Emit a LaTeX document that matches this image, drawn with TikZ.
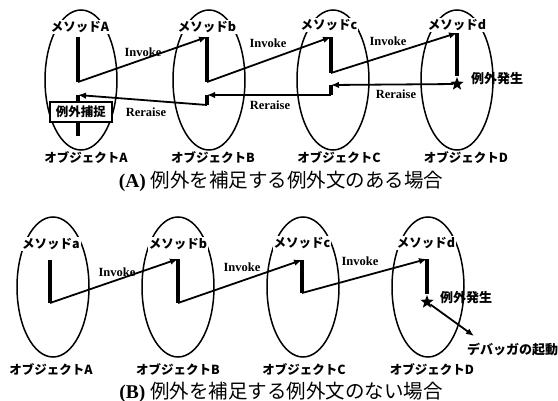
\documentclass[tikz,border=0pt]{standalone}
\usepackage{fontspec}
\setmainfont{Liberation Serif}
\newfontfamily\jpfont{Noto Sans CJK JP}
\usetikzlibrary{arrows.meta,shapes.geometric}

\begin{document}
\begin{tikzpicture}[x=1pt, y=-1pt,
  obj/.style={draw, ellipse, line width=1.5pt, minimum width=72pt, minimum height=140pt, inner sep=0pt},
  meth/.style={fill=white, inner sep=1pt, font=\jpfont\bfseries\fontsize{12.5}{14}\selectfont},
  objname/.style={inner sep=1pt, font=\jpfont\bfseries\fontsize{12.5}{14}\selectfont},
  msg/.style={inner sep=1pt, font=\bfseries\fontsize{12.5}{14}\selectfont},
  note/.style={inner sep=1pt, font=\jpfont\bfseries\fontsize{13}{15}\selectfont},
  run/.style={line width=3.2pt},
  call/.style={line width=1.8pt, -{Latex[length=8pt, width=6.5pt]}},
  burst/.style={star, star points=5, star point ratio=2.4, fill=black, minimum size=14pt, inner sep=0pt},
  catchbox/.style={draw, fill=white, line width=1.3pt, minimum width=62pt, minimum height=20pt, inner sep=0pt,
    font=\jpfont\bfseries\fontsize{12.5}{14}\selectfont},
  captext/.style={inner sep=0pt, font=\fontsize{19.5}{22}\selectfont}]
  \path[use as bounding box, fill=white] (0,0) rectangle (558,401);

  % (A) the exception is caught in object A
  \node[obj] (oA) at (81,80) {};
  \node[obj] (oB) at (209,80) {};
  \node[obj] (oC) at (333,80) {};
  \node[obj] (oD) at (457,80) {};
  \node[meth] (mA) at (80,27) {メソッドA};
  \node[meth] (mB) at (207,27) {メソッドb};
  \node[meth] (mC) at (329,25) {メソッドc};
  \node[meth] (mD) at (457,25) {メソッドd};
  \node[objname] (nA) at (86,158) {オブジェクトA};
  \node[objname] (nB) at (213,158) {オブジェクトB};
  \node[objname] (nC) at (339,158) {オブジェクトC};
  \node[objname] (nD) at (466,158) {オブジェクトD};
  % method runs
  \coordinate (a1) at (78,37);  \coordinate (a2) at (78,82);
  \coordinate (a3) at (78,95);  \coordinate (a4) at (78,136);
  \coordinate (b1) at (207,37); \coordinate (b2) at (207,82);
  \coordinate (b3) at (207,95); \coordinate (b4) at (207,105);
  \coordinate (c1) at (331,37); \coordinate (c2) at (331,73);
  \coordinate (c3) at (331,85); \coordinate (c4) at (331,95);
  \coordinate (d1) at (457,33);
  \draw[run] (a1) -- (a2);
  \draw[run] (a3) -- (a4);
  \draw[run] (b1) -- (b2);
  \draw[run] (b3) -- (b4);
  \draw[run] (c1) -- (c2);
  \draw[run] (c3) -- (c4);
  \node[burst] (sD) at (457,84) {};
  \draw[run] (d1) -- (sD);
  \node[catchbox] (cA) at (81,112) {例外捕捉};
  % invoke and reraise
  \draw[call] (a2) -- (b1);
  \draw[call] (b2) -- (c1);
  \draw[call] (c2) -- (d1);
  \draw[call] (sD) -- (c3);
  \draw[call] (c4) -- (b3);
  \draw[call] (b4) -- (a3);
  \node[msg] (iAB) at (143,52) {Invoke};
  \node[msg] (iBC) at (268,43) {Invoke};
  \node[msg] (iCD) at (388,41) {Invoke};
  \node[msg] (rBA) at (146,112) {Reraise};
  \node[msg] (rCB) at (270,105) {Reraise};
  \node[msg] (rDC) at (396,94) {Reraise};
  \node[note] (eD) at (497,79) {例外発生};
  \node[captext] (capA) at (281,181) {\textbf{(A)} {\jpfont 例外を補足する例外文のある場合}};

  % (B) no handler, the debugger starts
  \node[obj] (pA) at (53,287) {};
  \node[obj] (pB) at (178,287) {};
  \node[obj] (pC) at (303,287) {};
  \node[obj] (pD) at (428,287) {};
  \node[meth] (qA) at (51,244) {メソッドa};
  \node[meth] (qB) at (178,244) {メソッドb};
  \node[meth] (qC) at (302,243) {メソッドc};
  \node[meth] (qD) at (426,243) {メソッドd};
  \node[objname] (kA) at (51,370) {オブジェクトA};
  \node[objname] (kB) at (178,370) {オブジェクトB};
  \node[objname] (kC) at (304,370) {オブジェクトC};
  \node[objname] (kD) at (432,370) {オブジェクトD};
  % method runs
  \coordinate (e1) at (50,260);  \coordinate (e2) at (50,303);
  \coordinate (f1) at (178,259); \coordinate (f2) at (178,303);
  \coordinate (g1) at (302,260); \coordinate (g2) at (302,293);
  \coordinate (h1) at (427,259);
  \draw[run] (e1) -- (e2);
  \draw[run] (f1) -- (f2);
  \draw[run] (g1) -- (g2);
  \node[burst] (sH) at (427,302) {};
  \draw[run] (h1) -- (sH);
  \draw[call] (e2) -- (f1);
  \draw[call] (f2) -- (g1);
  \draw[call] (g2) -- (h1);
  \node[msg] (jAB) at (117,272) {Invoke};
  \node[msg] (jBC) at (242,267) {Invoke};
  \node[msg] (jCD) at (360,261) {Invoke};
  \node[note] (eH) at (466,298) {例外発生};
  \coordinate (dbg) at (474,336);
  \draw[call] (sH) -- (dbg);
  \node[note, anchor=west] (dbgtext) at (466,350) {デバッガの起動};
  \node[captext] (capB) at (281,392) {\textbf{(B)} {\jpfont 例外を補足する例外文のない場合}};
\end{tikzpicture}
\end{document}
